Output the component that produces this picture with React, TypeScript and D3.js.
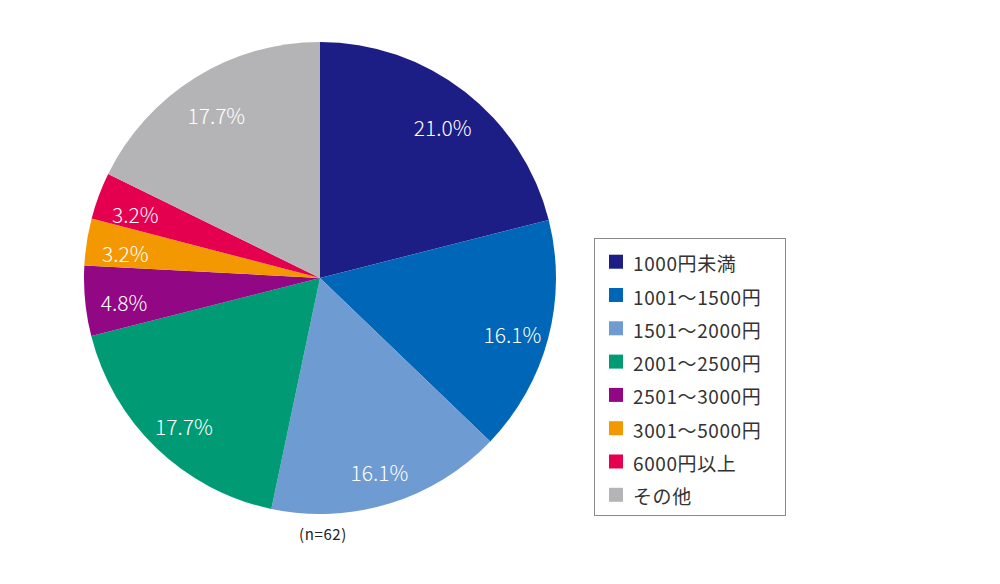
import { useEffect, useRef } from 'react';
import * as d3 from 'd3';

// 価格帯ごとの割合 (n=62)、12時から時計回り
const CATEGORIES = [
  '1000円未満',
  '1001～1500円',
  '1501～2000円',
  '2001～2500円',
  '2501～3000円',
  '3001～5000円',
  '6000円以上',
  'その他',
];
const VALUES = [21.0, 16.1, 16.1, 17.7, 4.8, 3.2, 3.2, 17.7];
const COLORS = ['#1d1d86', '#0066b7', '#6e9bd2', '#009b74', '#920783', '#f39800', '#e4004f', '#b4b4b6'];
const NOTE = '(n=62)';

const WIDTH = 1000;
const HEIGHT = 584;
const FONT = "'Noto Sans CJK JP', 'Noto Sans', sans-serif";

interface Slice {
  label: string;
  value: number;
  color: string;
}

export default function App() {
  const svgRef = useRef<SVGSVGElement>(null);

  useEffect(() => {
    if (!svgRef.current) return;
    const svg = d3.select(svgRef.current);
    svg.selectAll('*').remove();

    const cx = 320;
    const cy = 278;
    const radius = 236;

    const data: Slice[] = CATEGORIES.map((label, i) => ({ label, value: VALUES[i], color: COLORS[i] }));
    const pie = d3.pie<Slice>().sort(null).value((d) => d.value);
    const arcs = pie(data);

    const arcGen = d3.arc<d3.PieArcDatum<Slice>>().innerRadius(0).outerRadius(radius);
    // ラベルは中心から約0.84Rの位置、少し下寄せ
    const labelArc = d3.arc<d3.PieArcDatum<Slice>>().innerRadius(198).outerRadius(198);

    const g = svg.append('g').attr('transform', `translate(${cx},${cy})`);

    g.selectAll('path.slice')
      .data(arcs)
      .join('path')
      .attr('class', 'slice')
      .attr('d', (d) => arcGen(d) as string)
      .attr('fill', (d) => d.data.color);

    g.selectAll('text.pct')
      .data(arcs)
      .join('text')
      .attr('class', 'pct')
      .attr('transform', (d) => {
        const [x, y] = labelArc.centroid(d);
        return `translate(${x + 1},${y + 5})`;
      })
      .attr('text-anchor', 'middle')
      .attr('dominant-baseline', 'central')
      .attr('fill', '#ffffff')
      .style('font-family', FONT)
      .style('font-weight', 300)
      .style('font-size', '21px')
      .text((d) => `${d.data.value.toFixed(1)}%`);

    svg
      .append('text')
      .attr('x', 323)
      .attr('y', 533)
      .attr('text-anchor', 'middle')
      .attr('dominant-baseline', 'central')
      .attr('fill', '#222222')
      .style('font-family', FONT)
      .style('font-size', '15px')
      .style('letter-spacing', '0.6px')
      .text(NOTE);

    // 凡例
    const legend = svg.append('g');
    legend
      .append('rect')
      .attr('x', 594.5)
      .attr('y', 238.5)
      .attr('width', 191)
      .attr('height', 277)
      .attr('fill', '#ffffff')
      .attr('stroke', '#8a8a8a')
      .attr('stroke-width', 1);

    const rowY = d3.scaleLinear().domain([0, 1]).range([261.7, 295]);

    const rows = legend
      .selectAll('g.row')
      .data(data)
      .join('g')
      .attr('class', 'row')
      .attr('transform', (_, i) => `translate(0,${rowY(i)})`);

    rows
      .append('rect')
      .attr('x', 609)
      .attr('y', -7)
      .attr('width', 14)
      .attr('height', 14)
      .attr('fill', (d) => d.color);

    rows
      .append('text')
      .attr('x', 633)
      .attr('y', 1)
      .attr('dominant-baseline', 'central')
      .attr('fill', '#333333')
      .style('font-family', FONT)
      .style('font-size', '19px')
      .style('letter-spacing', '0.6px')
      .text((d) => d.label);
  }, []);

  return (
    <svg
      ref={svgRef}
      width={WIDTH}
      height={HEIGHT}
      viewBox={`0 0 ${WIDTH} ${HEIGHT}`}
      style={{ position: 'absolute', left: 0, top: 0, background: '#ffffff' }}
    />
  );
}
